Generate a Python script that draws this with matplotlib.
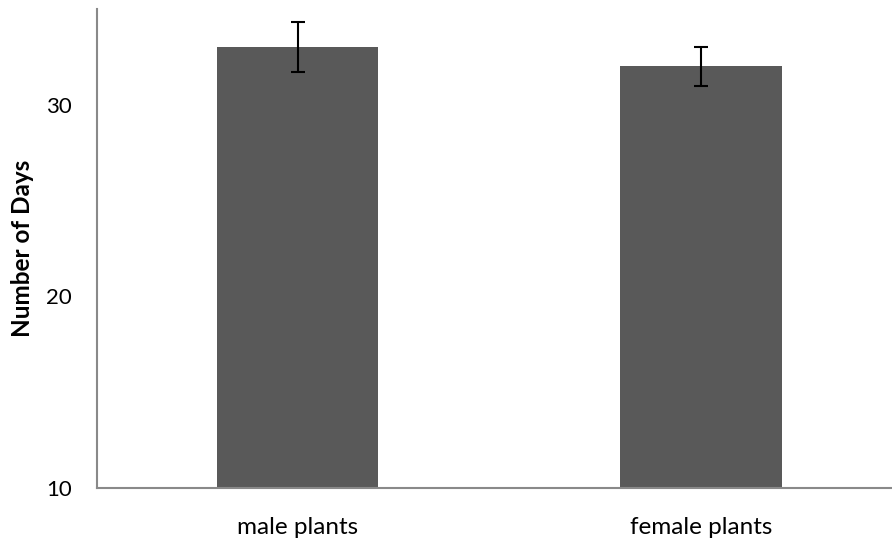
import numpy as np
import matplotlib.pyplot as plt

# dane
categories = ['male plants', 'female plants']
days = [33.0, 32.0]
errors = [1.3, 1.0]

plt.rcParams['font.family'] = ['Lato', 'DejaVu Sans']

fig = plt.figure(figsize=(8.92, 5.38), dpi=100)
ax = fig.add_axes([97/892, 50/538, 1 - 97/892, 479/538])

x = np.arange(len(categories))
ax.bar(x, days, width=0.40, color='#595959', zorder=2)
ax.errorbar(x, days, yerr=errors, fmt='none', ecolor='black',
            elinewidth=1.5, capsize=5, capthick=1.5, zorder=3)

ax.set_ylim(10, 35)
ax.set_xlim(-0.497, 1.473)
ax.set_yticks([10, 20, 30])
ax.set_xticks(x)
ax.set_xticklabels(categories)
ax.tick_params(axis='both', length=0)
ax.tick_params(axis='y', pad=18, labelsize=16)
ax.tick_params(axis='x', pad=21, labelsize=17.5)

for s in ['top', 'right']:
    ax.spines[s].set_visible(False)
for s in ['left', 'bottom']:
    ax.spines[s].set_color('#898989')
    ax.spines[s].set_linewidth(1.5)

ax.set_ylabel('Number of Days', fontsize=17.5, fontweight='bold')
ax.yaxis.set_label_coords(-0.079, 0.5)

fig.savefig('out.png', dpi=100)
